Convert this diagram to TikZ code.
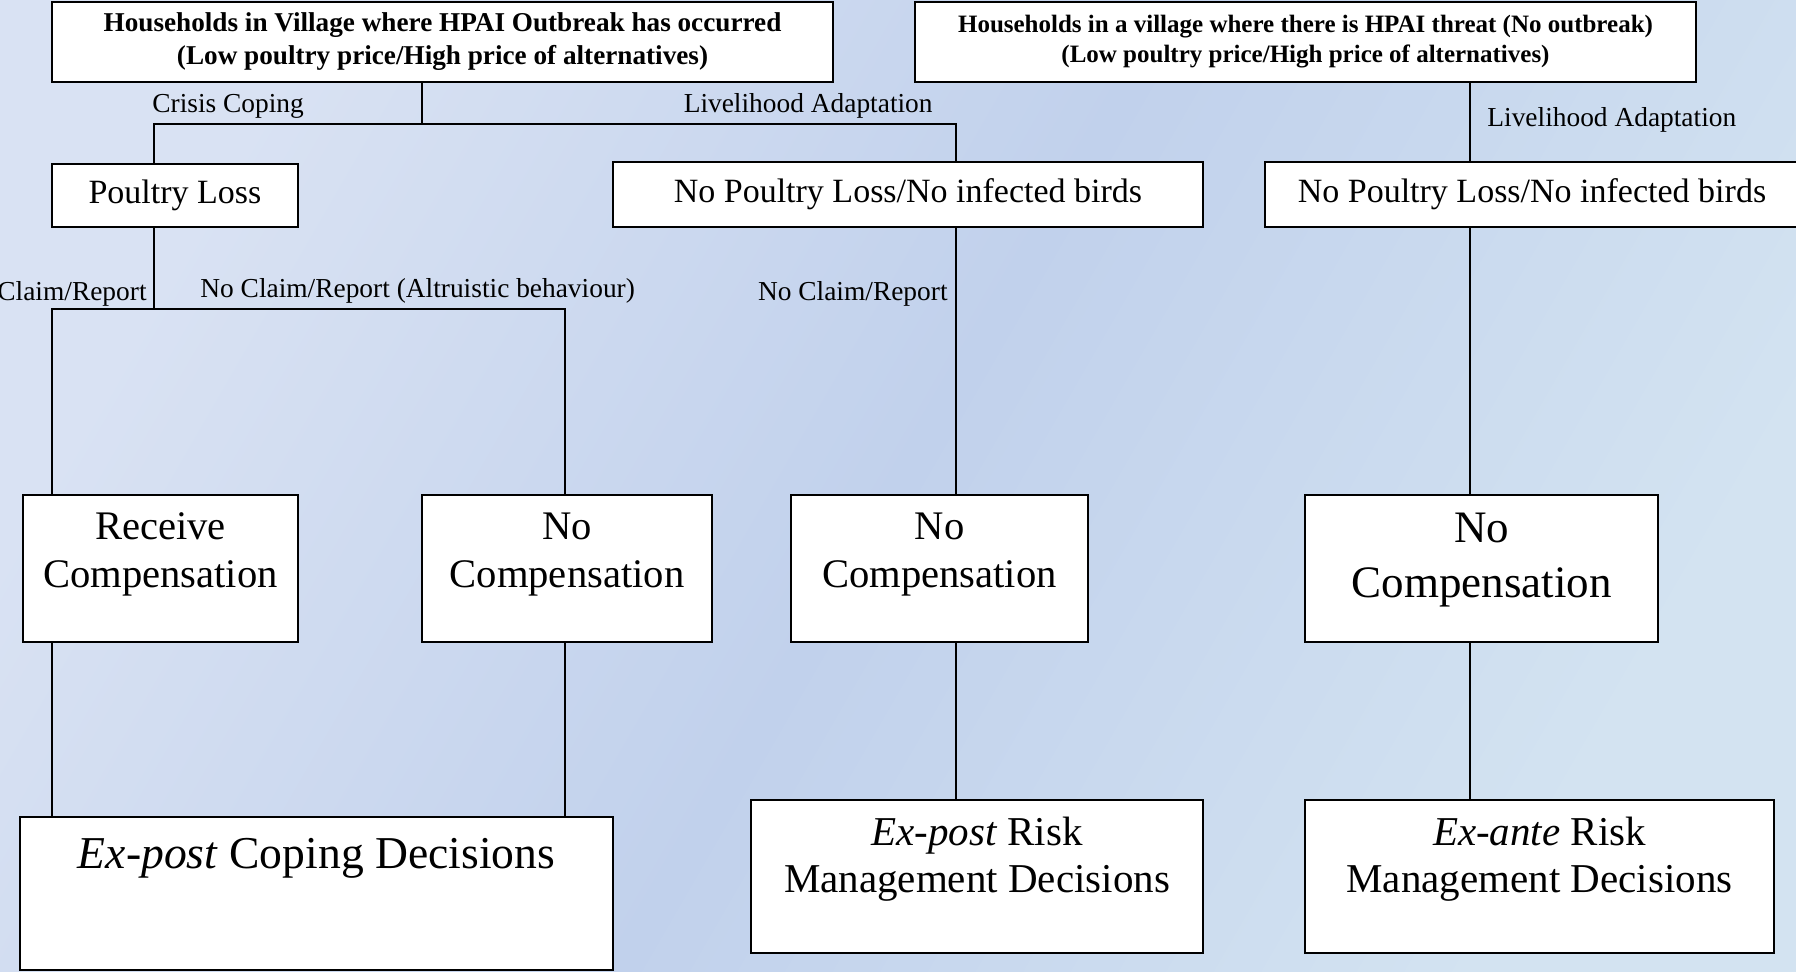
\documentclass[tikz,border=0pt]{standalone}
\usepackage{fontspec}
\setmainfont{Liberation Serif}
\definecolor{bgA}{RGB}{217,226,243}
\definecolor{bgB}{RGB}{193,209,236}
\definecolor{bgC}{RGB}{211,227,241}
\pgfdeclarehorizontalshading{bgfade}{100bp}{color(0bp)=(bgA); color(25bp)=(bgA); color(50bp)=(bgB); color(75bp)=(bgC); color(100bp)=(bgC)}

\begin{document}
\begin{tikzpicture}[x=0.5pt, y=-0.5pt,
	box/.style={draw, line width=1pt, fill=white, inner sep=0pt, align=center},
	lbl/.style={inner sep=0pt, anchor=base, font=\fontsize{13.7}{16}\selectfont},
	txt/.style={inner sep=0pt, anchor=base, align=center, font=\fontsize{20.3}{24}\selectfont},
	link/.style={line width=0.6pt}]
	
	\shade[shading=bgfade, shading angle=-30] (0,0) rectangle (1796,972);
	\useasboundingbox (0,0) rectangle (1796,972);
	
	% top row
	\node[box, minimum width=390.5pt, minimum height=40pt, font=\fontsize{13.6}{16.5}\selectfont\bfseries] (hh1) at (442.5,42)
		{Households in Village where HPAI Outbreak has occurred\\(Low poultry price/High price of alternatives)};
	\node[box, minimum width=390.5pt, minimum height=40pt, font=\fontsize{12.5}{15}\selectfont\bfseries] (hh2) at (1305.5,42)
		{Households in a village where there is HPAI threat (No outbreak)\\(Low poultry price/High price of alternatives)};
	
	% second row
	\node[box, minimum width=123pt, minimum height=31.5pt, font=\fontsize{17}{20}\selectfont] (pl) at (175,195.5) {Poultry Loss};
	\node[box, minimum width=295pt, minimum height=32.5pt, font=\fontsize{17}{20}\selectfont] (npl1) at (908,194.5) {No Poultry Loss/No infected birds};
	\node[box, minimum width=267pt, minimum height=32.5pt, font=\fontsize{17}{20}\selectfont] (npl2) at (1532,194.5) {No Poultry Loss/No infected birds};
	
	% compensation row (base = last line)
	\node[box, minimum width=137.5pt, minimum height=73.5pt] (rc) at (160.5,568.5) {};
	\node[box, minimum width=145pt, minimum height=73.5pt] (nc1) at (567,568.5) {};
	\node[box, minimum width=148.5pt, minimum height=73.5pt] (nc2) at (939.5,568.5) {};
	\node[box, minimum width=176.5pt, minimum height=73.5pt] (nc3) at (1481.5,568.5) {};
	\node[txt] (rc-t) at (160.5,588) {Receive\\Compensation};
	\node[txt] (nc1-t) at (567,588) {No\\Compensation};
	\node[txt] (nc2-t) at (939.5,588) {No\\Compensation};
	\node[txt, font=\fontsize{22.5}{27.5}\selectfont] (nc3-t) at (1481.5,598) {No\\Compensation};
	
	% decisions row
	\node[box, minimum width=296.5pt, minimum height=76.5pt] (epc) at (316.5,893.5) {};
	\node[box, minimum width=226pt, minimum height=76.5pt] (epr) at (977,876.5) {};
	\node[box, minimum width=234.5pt, minimum height=76.5pt] (ear) at (1539.5,876.5) {};
	\node[txt, font=\fontsize{22.8}{26}\selectfont] (epc-t) at (316.5,869) {\textit{Ex-post} Coping Decisions};
	\node[txt, font=\fontsize{20.5}{24}\selectfont] (epr-t) at (977,893) {\textit{Ex-post} Risk\\Management Decisions};
	\node[txt, font=\fontsize{20.5}{24}\selectfont] (ear-t) at (1539.5,893) {\textit{Ex-ante} Risk\\Management Decisions};
	
	% branch points
	\coordinate (j1) at (422,124);
	\coordinate (jl) at (154,124);
	\coordinate (jr) at (956,124);
	\coordinate (k1) at (154,309);
	\coordinate (kl) at (52,309);
	\coordinate (kr) at (565,309);
	\coordinate (m) at (1470,0);
	
	\draw[link] (hh1.south -| j1) -- (j1);
	\draw[link] (pl.north -| jl) -- (jl) -- (jr) -- (npl1.north -| jr);
	\draw[link] (pl.south -| k1) -- (k1);
	\draw[link] (rc.north -| kl) -- (kl) -- (kr) -- (nc1.north -| kr);
	\draw[link] (npl1.south -| jr) -- (nc2.north -| jr);
	\draw[link] (hh2.south -| m) -- (npl2.north -| m);
	\draw[link] (npl2.south -| m) -- (nc3.north -| m);
	\draw[link] (rc.south -| kl) -- (epc.north -| kl);
	\draw[link] (nc1.south -| kr) -- (epc.north -| kr);
	\draw[link] (nc2.south -| jr) -- (epr.north -| jr);
	\draw[link] (nc3.south -| m) -- (ear.north -| m);
	
	% branch labels
	\node[lbl, anchor=base west] (l-cc) at (152,113) {Crisis Coping};
	\node[lbl, anchor=base east] (l-la1) at (933,113) {Livelihood Adaptation};
	\node[lbl, anchor=base west] (l-la2) at (1487,127) {Livelihood Adaptation};
	\node[lbl, anchor=base east] (l-cr) at (147,301) {Claim/Report};
	\node[lbl, anchor=base west] (l-ncr1) at (200,298) {No Claim/Report (Altruistic behaviour)};
	\node[lbl, anchor=base east] (l-ncr2) at (948,301) {No Claim/Report};
\end{tikzpicture}
\end{document}
